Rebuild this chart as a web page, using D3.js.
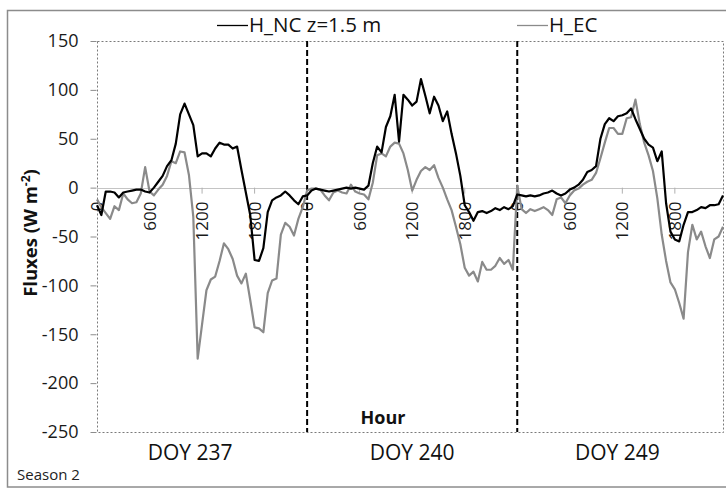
<!DOCTYPE html>
<html>
<head>
<meta charset="utf-8">
<script src="https://cdn.jsdelivr.net/npm/d3@7"></script>
<style>
  html, body { margin: 0; padding: 0; background: #fff; }
  svg { display: block; font-family: "Open Sans", "Noto Sans", sans-serif; }
</style>
</head>
<body>
<svg id="chart" width="726" height="489"></svg>
<script>
// Days shown, tick labels and half-hourly sensible heat fluxes (W m-2)
const days = ["DOY 237", "DOY 240", "DOY 249"];
const hourTicks = [0, 600, 1200, 1800];
const yTicks = [150, 100, 50, 0, -50, -100, -150, -200, -250];
const seriesNames = ["H_NC z=1.5 m", "H_EC"];

const nc237 = [-18,-28,-4,-4,-5,-10,-5,-4,-3,-2, -2,-4,-5,0,6,12,22,28,45,75,
  86,75,64,32,35,35,32,40,46,44, 44,40,42,18,-5,-28,-74,-75,-62,-25,
  -13,-10,-8,-4,-8,-13,-17,-9];
const ec237 = [-12,-20,-26,-32,-19,-23,-6,-12,-16,-15, -6,21,-4,-8,-2,3,12,27,25,37,
  36,13,-30,-175,-140,-105,-94,-91,-75,-57, -63,-73,-90,-98,-88,-115,-143,-144,-148,-108,
  -95,-93,-48,-36,-40,-49,-32,-20];
const nc240 = [-8,-3,-1,-2,-3,-4,-3,-2,-1,0, -1,0,-1,-2,2,25,42,36,62,73,
  95,47,95,90,84,88,111,94,76,93, 84,68,78,55,35,12,-18,-25,-34,-25,
  -24,-26,-24,-21,-23,-20,-22,-19];
const ec240 = [-3,-1,-1,-2,-8,-13,-5,-3,-5,-6, 3,-4,-6,-7,-12,5,33,35,32,42,
  46,45,35,18,-3,8,17,21,18,23, 10,0,-12,-23,-40,-58,-82,-90,-86,-96,
  -76,-84,-84,-80,-72,-78,-74,-84];
const nc249 = [-7,-8,-9,-8,-9,-8,-6,-5,-3,-6, -8,-6,-2,0,3,8,16,18,22,50,
  65,71,68,73,74,76,81,70,60,50, 44,41,27,37,-16,-45,-53,-55,-38,-25,
  -25,-23,-20,-21,-18,-18,-17,-8];
const ec249 = [2,-22,-26,-22,-24,-22,-20,-23,-28,-12, -10,-16,-8,-3,-1,3,6,8,15,30,
  46,61,61,55,55,71,72,90,65,46, 33,17,-11,-48,-75,-97,-104,-118,-134,-66,
  -38,-53,-45,-60,-72,-53,-50,-40];

const ncByDay = [nc237, nc240, nc249];
const ecByDay = [ec237, ec240, ec249];

// Continuous time axis in hours across the three days (values every 30 min)
function toPoints(byDay) {
  const pts = [];
  byDay.forEach((vals, d) => vals.forEach((v, i) => pts.push({ t: d * 24 + i * 0.5, v })));
  return pts;
}
const ncPts = toPoints(ncByDay);
const ecPts = toPoints(ecByDay);

const svg = d3.select("#chart");
const plot = { left: 97, right: 723, top: 41, bottom: 432 };

const x = d3.scaleLinear().domain([0, 71.5]).range([plot.left, plot.right]);
const y = d3.scaleLinear().domain([-250, 150]).range([plot.bottom, plot.top]);

// Outer chart frame
svg.append("rect")
  .attr("x", 7.5).attr("y", 10.5).attr("width", 730).attr("height", 476.5)
  .attr("fill", "none").attr("stroke", "#8c8c8c").attr("stroke-width", 1.5);

// Dotted plot-area border
svg.append("rect")
  .attr("x", plot.left + 0.5).attr("y", plot.top + 0.5)
  .attr("width", plot.right - plot.left).attr("height", plot.bottom - plot.top)
  .attr("fill", "none").attr("stroke", "#7a7a7a").attr("stroke-width", 1)
  .attr("stroke-dasharray", "2,2");

// Y axis ticks and labels (plain hyphen for negatives)
const yAxis = d3.axisLeft(y).tickValues(yTicks).tickSize(6).tickPadding(12)
  .tickFormat(d => String(d));
const gy = svg.append("g").attr("transform", `translate(${plot.left - 0.5},0)`).call(yAxis);
gy.select(".domain").remove();
gy.selectAll(".tick line").attr("stroke", "#8c8c8c");
gy.selectAll(".tick text").attr("fill", "#1a1a1a").style("font-size", "18px")
  .style("font-family", "'Open Sans', sans-serif");

// Zero line
svg.append("line")
  .attr("x1", plot.left).attr("x2", plot.right)
  .attr("y1", Math.round(y(0)) + 0.5).attr("y2", Math.round(y(0)) + 0.5)
  .attr("stroke", "#c4c4c4").attr("stroke-width", 1.2);

// Hour ticks on the zero line, labels rotated
const hourVals = [];
days.forEach((_, d) => hourTicks.forEach(h => hourVals.push({ t: d * 24 + h / 100, label: String(h) })));
const hx = svg.append("g");
hx.selectAll("line.ht").data(hourVals.filter(h => h.t % 24 !== 0)).enter().append("line")
  .attr("x1", d => x(d.t)).attr("x2", d => x(d.t))
  .attr("y1", y(0)).attr("y2", y(0) + 6)
  .attr("stroke", "#b0b0b0").attr("stroke-width", 1);
hx.selectAll("text").data(hourVals).enter().append("text")
  .attr("transform", d => `translate(${x(d.t) + 6},${y(0) + 14}) rotate(-90)`)
  .attr("text-anchor", "end")
  .style("font-size", "17px").attr("fill", "#1a1a1a")
  .text(d => d.label);

// Day separators
[24, 48].forEach(t => {
  svg.append("line")
    .attr("x1", x(t)).attr("x2", x(t)).attr("y1", plot.top).attr("y2", plot.bottom)
    .attr("stroke", "#000").attr("stroke-width", 2).attr("stroke-dasharray", "6,3");
});

// Flux lines
const line = d3.line().x(d => x(d.t)).y(d => y(d.v));
svg.append("path").datum(ecPts).attr("d", line)
  .attr("fill", "none").attr("stroke", "#8a8a8a").attr("stroke-width", 2.2)
  .attr("stroke-linejoin", "round");
svg.append("path").datum(ncPts).attr("d", line)
  .attr("fill", "none").attr("stroke", "#000").attr("stroke-width", 2.2)
  .attr("stroke-linejoin", "round");

// Day labels under the plot
const dayLabelShift = [-12, 0, -5];
svg.selectAll("text.day").data(days).enter().append("text")
  .attr("class", "day")
  .attr("x", (d, i) => x(i * 24 + 12) + dayLabelShift[i])
  .attr("y", 460)
  .attr("text-anchor", "middle")
  .style("font-size", "21px").attr("fill", "#111")
  .text(d => d);

// Axis titles
svg.append("text").attr("x", 383).attr("y", 424).attr("text-anchor", "middle")
  .style("font-size", "18px").style("font-weight", "bold").attr("fill", "#111")
  .text("Hour");

const yt = svg.append("text")
  .attr("transform", "translate(37,233) rotate(-90)")
  .attr("text-anchor", "middle")
  .style("font-size", "18.5px").style("font-weight", "bold").attr("fill", "#111");
yt.append("tspan").text("Fluxes (W m");
yt.append("tspan").attr("dy", -7).style("font-size", "12px").text("-2");
yt.append("tspan").attr("dy", 7).text(")");

svg.append("text").attr("x", 17).attr("y", 480)
  .style("font-size", "15px").attr("fill", "#222").text("Season 2");

// Legend
const legend = [
  { name: seriesNames[0], color: "#000", x: 217 },
  { name: seriesNames[1], color: "#8a8a8a", x: 517 }
];
legend.forEach(l => {
  svg.append("line").attr("x1", l.x).attr("x2", l.x + 31).attr("y1", 25.5).attr("y2", 25.5)
    .attr("stroke", l.color).attr("stroke-width", 1.3);
  svg.append("text").attr("x", l.x + 32).attr("y", 32)
    .style("font-size", "20.5px").attr("fill", "#111").text(l.name);
});
</script>
</body>
</html>
